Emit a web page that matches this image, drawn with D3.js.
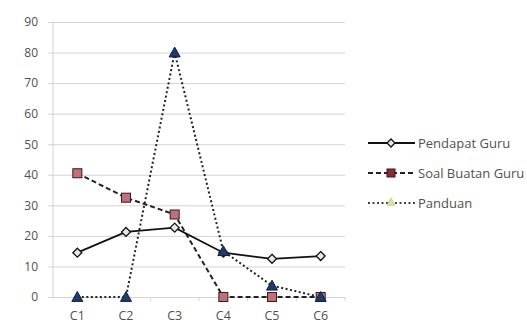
<!DOCTYPE html>
<html><head><meta charset="utf-8">
<script src="https://cdn.jsdelivr.net/npm/d3@7"></script>
<style>body{margin:0;background:#fff}svg{display:block}text{font-family:"Open Sans",sans-serif}</style>
</head><body><svg id="c" width="527" height="329"></svg>
<script>
const categories = ["C1","C2","C3","C4","C5","C6"];
const pendapatGuru = [14.5, 21.3, 22.7, 14.5, 12.5, 13.4];
const soalBuatanGuru = [40.5, 32.5, 27, 0, 0, 0];
const panduan = [0, 0, 80, 15, 3.7, 0];
const yTicks = [0,10,20,30,40,50,60,70,80,90];
const seriesNames = ["Pendapat Guru","Soal Buatan Guru","Panduan"];

const svg = d3.select("#c");
const L = 53, R = 345, T = 22, B = 297;
const x = d3.scaleBand().domain(categories).range([L, R]);
const y = d3.scaleLinear().domain([0, 90]).range([B, T]);
const cx = d => x(d) + x.bandwidth()/2;

// gridlines
const gy = svg.append("g").attr("transform", `translate(${L},0)`)
  .call(d3.axisLeft(y).tickValues(yTicks).tickSize(-(R-L)).tickPadding(15).tickFormat(d3.format("d")));
gy.select(".domain").remove();
gy.selectAll(".tick line").attr("stroke", "#d4d4d4").attr("x1", -5);
gy.selectAll(".tick text").attr("fill", "#505050").style("font-size", "12px");
svg.append("line").attr("x1", L).attr("x2", L).attr("y1", T).attr("y2", B).attr("stroke", "#d4d4d4");

const gx = svg.append("g").attr("transform", `translate(0,${B})`)
  .call(d3.axisBottom(x).tickSize(0).tickPadding(14));
gx.select(".domain").attr("stroke", "#d4d4d4");
gx.selectAll(".tick text").attr("fill", "#505050").style("font-size", "12.5px");
gx.selectAll(".bt").data(categories).enter().append("line")
  .attr("x1", d => x(d)+x.bandwidth()).attr("x2", d => x(d)+x.bandwidth())
  .attr("y1", 0).attr("y2", 4).attr("stroke", "#d4d4d4");

const line = d3.line().x((d,i) => cx(categories[i])).y(d => y(d));

function diamond(g, px, py, s) {
  g.append("path").attr("d", `M${px},${py-s}L${px+s},${py}L${px},${py+s}L${px-s},${py}Z`)
   .attr("fill", "#e8e8e8").attr("stroke", "#111").attr("stroke-width", 1.3);
}
function square(g, px, py, s, fill) {
  g.append("rect").attr("x", px-s).attr("y", py-s).attr("width", 2*s).attr("height", 2*s)
   .attr("fill", fill).attr("stroke", "#3a1a1a").attr("stroke-width", 1);
}
function tri(g, px, py, s, fill, stroke) {
  g.append("path").attr("d", `M${px},${py-s}L${px+s},${py+s*0.8}L${px-s},${py+s*0.8}Z`)
   .attr("fill", fill).attr("stroke", stroke).attr("stroke-width", 1);
}

const gl = svg.append("g");
// Panduan line
gl.append("path").attr("d", line(panduan)).attr("fill", "none")
  .attr("stroke", "#222").attr("stroke-width", 2).attr("stroke-dasharray", "2,2.5");
// Soal line
gl.append("path").attr("d", line(soalBuatanGuru)).attr("fill", "none")
  .attr("stroke", "#222").attr("stroke-width", 2).attr("stroke-dasharray", "5,3");
// Pendapat line
gl.append("path").attr("d", line(pendapatGuru)).attr("fill", "none")
  .attr("stroke", "#111").attr("stroke-width", 1.8);

const gm = svg.append("g");
soalBuatanGuru.forEach((v,i) => square(gm, cx(categories[i]), y(v), 4.5, "#c0707a"));
pendapatGuru.forEach((v,i) => diamond(gm, cx(categories[i]), y(v), 4.5));
panduan.forEach((v,i) => tri(gm, cx(categories[i]), y(v), 5.5, "#1f3a6e", "#0e1f40"));

// legend
const lg = svg.append("g");
const ly = [143, 173, 203];
const lx1 = 368, lx2 = 415, lm = 391;
lg.append("line").attr("x1", lx1).attr("x2", lx2).attr("y1", ly[0]).attr("y2", ly[0]).attr("stroke", "#111").attr("stroke-width", 1.8);
diamond(lg, lm, ly[0], 4);
lg.append("line").attr("x1", lx1).attr("x2", lx2).attr("y1", ly[1]).attr("y2", ly[1]).attr("stroke", "#222").attr("stroke-width", 2).attr("stroke-dasharray", "5,3");
square(lg, lm, ly[1], 4, "#8a2a35");
lg.append("line").attr("x1", lx1).attr("x2", lx2).attr("y1", ly[2]).attr("y2", ly[2]).attr("stroke", "#444").attr("stroke-width", 1.8).attr("stroke-dasharray", "2,2.5");
tri(lg, lm, ly[2]-1, 4, "#d8e2a0", "#c8d090");
seriesNames.forEach((n,i) => lg.append("text").attr("x", 418).attr("y", ly[i]+4.5)
  .attr("fill", "#505050").style("font-size", "13px").text(n));
</script></body></html>
